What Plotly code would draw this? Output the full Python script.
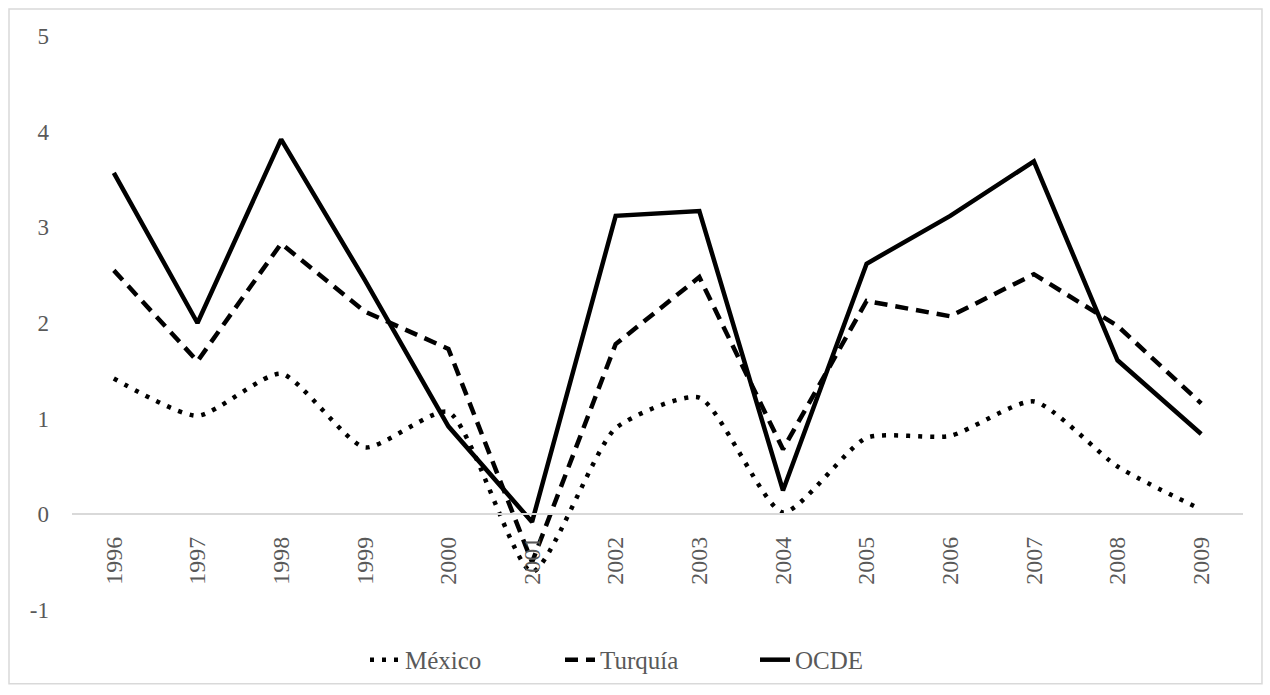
import plotly.graph_objects as go

# Annual values by country group, 1996-2009
years = ["1996", "1997", "1998", "1999", "2000", "2001", "2002",
         "2003", "2004", "2005", "2006", "2007", "2008", "2009"]
mexico = [1.42, 1.03, 1.47, 0.70, 1.07, -0.60, 0.90,
          1.22, 0.02, 0.80, 0.82, 1.18, 0.50, 0.05]
turquia = [2.55, 1.60, 2.83, 2.12, 1.73, -0.50, 1.78,
           2.48, 0.68, 2.23, 2.07, 2.51, 1.97, 1.16]
ocde = [3.57, 2.00, 3.92, 2.45, 0.92, -0.08, 3.12,
        3.17, 0.25, 2.62, 3.12, 3.69, 1.61, 0.84]
y_ticks = [-1, 0, 1, 2, 3, 4, 5]
y_tick_labels = ["-1", "0", "1", "2", "3", "4", "5"]

font_family = "Times New Roman, Liberation Serif, DejaVu Serif, serif"
text_grey = "#595959"
rule_grey = "#d9d9d9"

fig = go.Figure()
fig.add_trace(go.Scatter(
    x=years, y=mexico, name="México", mode="lines",
    line=dict(color="black", width=4.5, dash="4px,8px", shape="spline", smoothing=0.6),
))
fig.add_trace(go.Scatter(
    x=years, y=turquia, name="Turquía", mode="lines",
    line=dict(color="black", width=4.5, dash="13px,8px"),
))
fig.add_trace(go.Scatter(
    x=years, y=ocde, name="OCDE", mode="lines",
    line=dict(color="black", width=4.5),
))

# Outer chart frame
fig.add_shape(type="rect", xref="paper", yref="paper",
              x0=-0.0538, x1=1.0162, y0=-0.1285, y1=1.0469,
              line=dict(color=rule_grey, width=1.5), fillcolor="rgba(0,0,0,0)",
              layer="below")

fig.update_layout(
    width=1270, height=695,
    margin=dict(l=72, r=27, t=36, b=83),
    paper_bgcolor="white", plot_bgcolor="white",
    font=dict(family=font_family, size=23, color=text_grey),
    showlegend=True,
    legend=dict(orientation="h", x=0.5, xanchor="center", y=-0.087, yanchor="middle",
                font=dict(family=font_family, size=25, color=text_grey),
                entrywidth=150, entrywidthmode="pixels", traceorder="normal"),
    xaxis=dict(
        type="category", range=[-0.5, 13.5],
        anchor="free", position=1/6,
        showline=True, linecolor=rule_grey, linewidth=1.5,
        showgrid=False, zeroline=False, ticks="",
        tickangle=-90, ticklabelstandoff=12,
        tickfont=dict(family=font_family, size=24, color=text_grey),
    ),
    yaxis=dict(
        range=[-1, 5], tickmode="array", tickvals=y_ticks, ticktext=y_tick_labels,
        showgrid=False, zeroline=False, showline=False, ticks="",
        ticklabelstandoff=22,
        tickfont=dict(family=font_family, size=23, color=text_grey),
    ),
)

fig.write_html("out.html")
